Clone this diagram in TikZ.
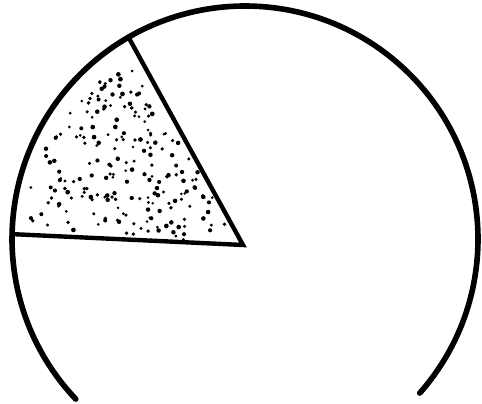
\documentclass[tikz,border=0pt]{standalone}
\usetikzlibrary{calc}
\tikzset{
  rim/.style={line width=3.2pt,draw=black,line cap=round},
  spoke/.style={line width=2.5pt,draw=black,line cap=round},
  speck/.style={fill=black}
}
\begin{document}
\begin{tikzpicture}[x=0.02cm,y=0.02cm]
  \useasboundingbox (0,0) rectangle (482,404);
  % circle centre and sector vertex
  \coordinate (O) at (245,165);
  \coordinate (V) at (243,159);
  \coordinate (A) at ($(O)+(120:233)$);
  \coordinate (B) at ($(O)+(178.8:233)$);

  % stippled sector
  \pgfmathsetseed{7}
  \foreach \i in {1,...,210}{
    \pgfmathsetmacro\ang{122+53*rnd}
    \pgfmathsetmacro\rad{10+210*sqrt(rnd)}
    \pgfmathsetmacro\dotr{1.4+1.0*rnd}
    \fill[speck] ($(V)+(\ang:\rad)$) circle (\dotr);
  }

  % rim, open at the bottom
  \draw[rim] ($(O)+(-41.4:233)$) arc[start angle=-41.4,end angle=223.4,radius=233];
  \draw[spoke] (A) -- (V) -- (B);
\end{tikzpicture}
\end{document}
